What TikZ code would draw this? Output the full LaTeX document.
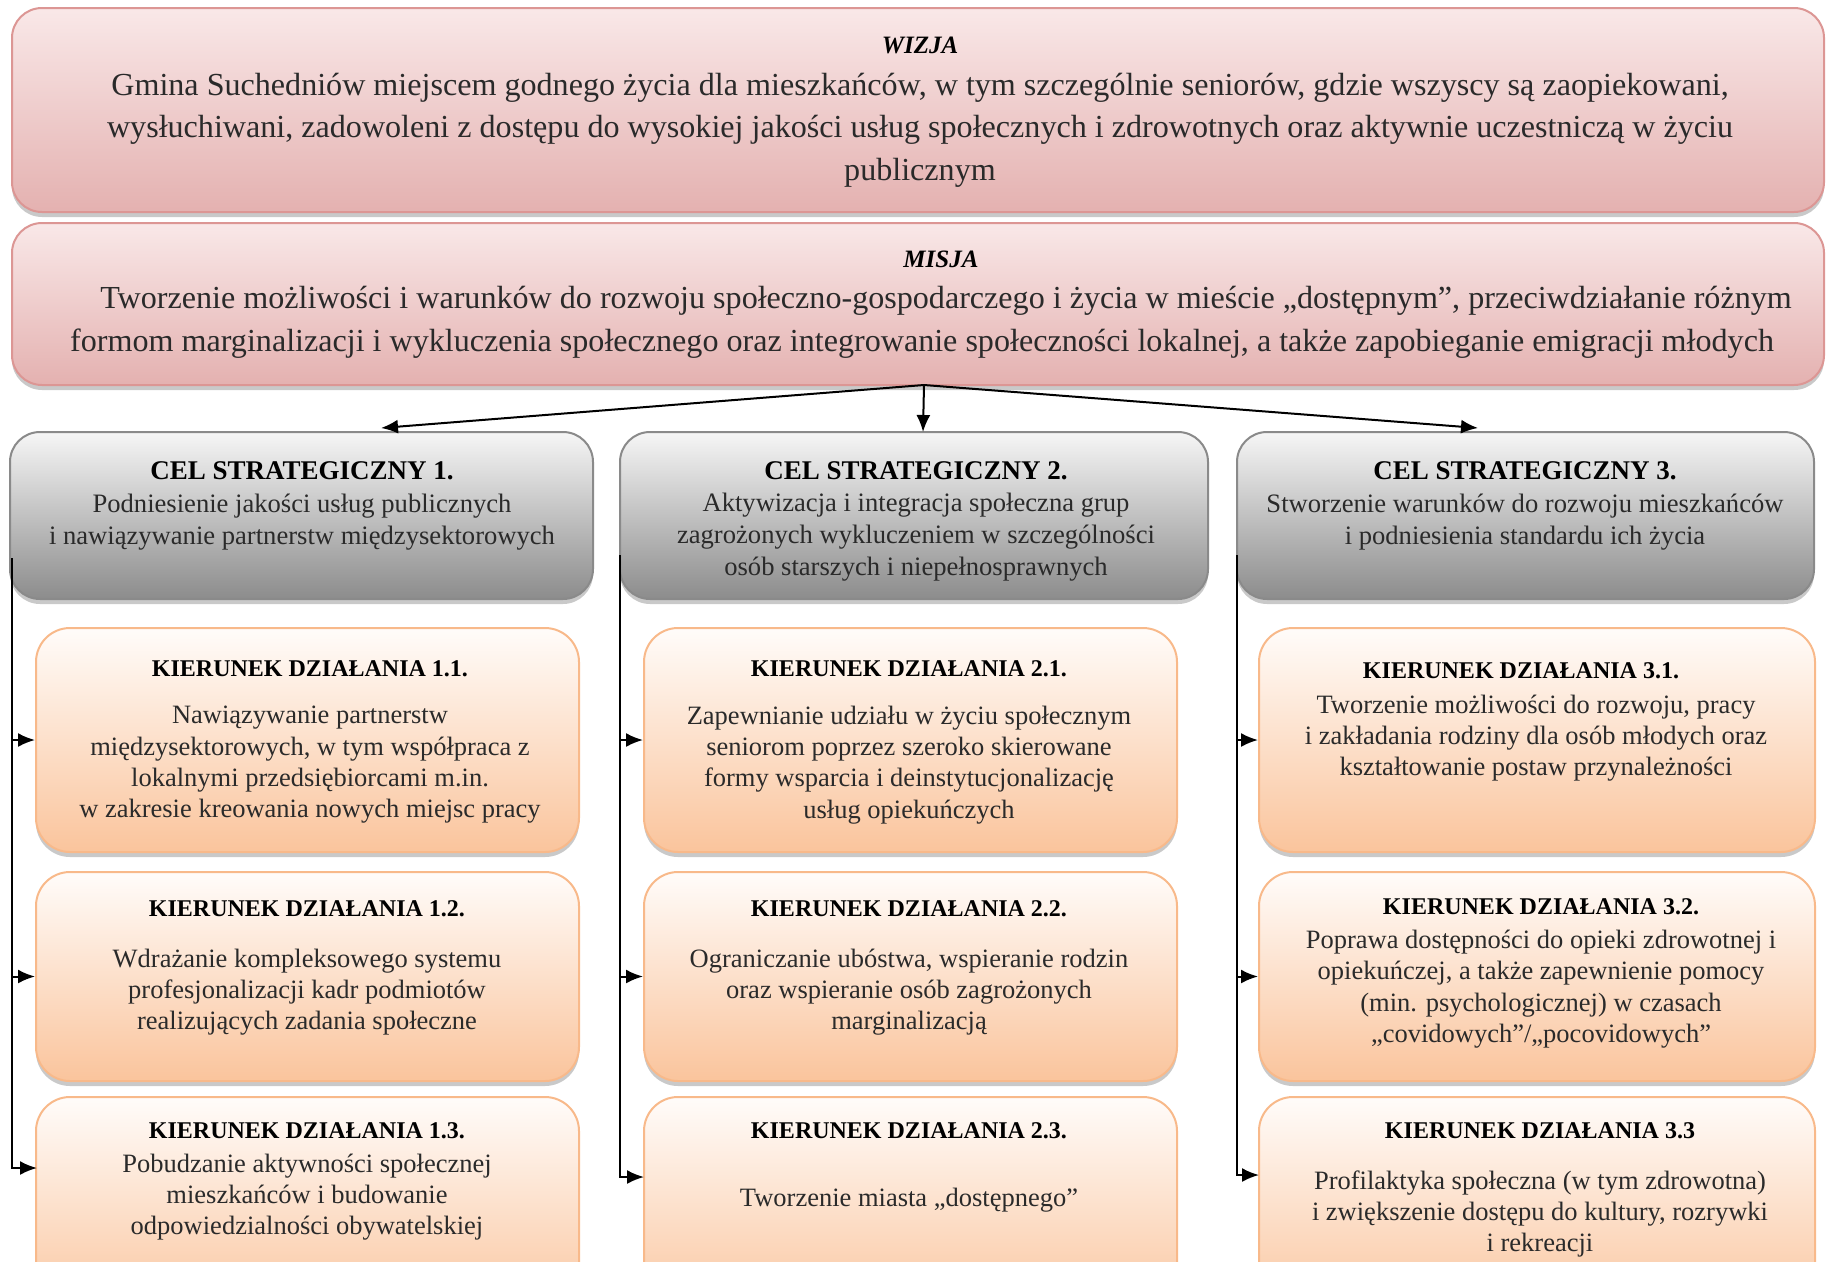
\documentclass[tikz,border=0pt]{standalone}
\usepackage{fontspec}
\setmainfont{Liberation Serif}
\usetikzlibrary{arrows.meta,shadows,calc}
\definecolor{pinkB}{HTML}{DC9694}
\definecolor{pinkT}{HTML}{F9E8E8}
\definecolor{pinkBot}{HTML}{E4B1B0}
\definecolor{grayB}{HTML}{8A8A8A}
\definecolor{grayT}{HTML}{F6F6F6}
\definecolor{grayBot}{HTML}{8C8C8C}
\definecolor{orB}{HTML}{F8B98A}
\definecolor{orT}{HTML}{FFFCFA}
\definecolor{orBot}{HTML}{FAC49C}
\definecolor{bodytxt}{HTML}{2A2A2A}
\begin{document}
\begin{tikzpicture}[x=1pt,y=-1pt,
  shad/.style={drop shadow={shadow xshift=0pt, shadow yshift=-5pt, opacity=0.3, fill=black!70}},
  pbox/.style={draw=pinkB, line width=2pt, rounded corners=30pt, top color=pinkT, bottom color=pinkBot, shad},
  gbox/.style={draw=grayB, line width=2pt, rounded corners=30pt, top color=grayT, bottom color=grayBot, shad},
  obox/.style={draw=orB, line width=2pt, rounded corners=34pt, top color=orT, bottom color=orBot, shad},
  bigbody/.style={align=center, text=bodytxt, inner sep=0pt, font=\fontsize{32.1}{42.5}\selectfont},
  bigtitle/.style={inner sep=0pt, font=\fontsize{25}{30}\selectfont\bfseries\itshape},
  celtitle/.style={inner sep=0pt, font=\fontsize{27}{30}\selectfont\bfseries},
  celbody/.style={align=center, text=bodytxt, inner sep=0pt, font=\fontsize{26.6}{32}\selectfont},
  ktitle/.style={inner sep=0pt, font=\fontsize{24}{30}\selectfont\bfseries},
  kbody/.style={align=center, text=bodytxt, inner sep=0pt, font=\fontsize{26.5}{31.3}\selectfont},
  conn/.style={line width=2pt, -{Latex[length=17pt,width=14pt]}},
  kw1/.style={minimum width=543pt},
  kw2/.style={minimum width=533pt},
  kw3/.style={minimum width=556pt},
]
\useasboundingbox (0,0) rectangle (1827,1261);
\clip (0,0) rectangle (1827,1261);

% ---- vision / mission
\node[pbox, minimum width=1812pt, minimum height=204pt] (wizja) at (918,110) {};
\node[pbox, minimum width=1812pt, minimum height=162pt] (misja) at (918,304) {};
\node[bigtitle] (wizjaT) at (920,45) {WIZJA};
\node[bigbody] (wizjaB) at (920,130) {Gmina Suchedniów miejscem godnego życia dla mieszkańców, w tym szczególnie seniorów, gdzie wszyscy są zaopiekowani,\\wysłuchiwani, zadowoleni z dostępu do wysokiej jakości usług społecznych i zdrowotnych oraz aktywnie uczestniczą w życiu\\publicznym};
\node[bigtitle] (misjaT) at (941,259) {MISJA};
\node[bigbody] (misjaB) at (922,322.5) {\hspace*{48pt}Tworzenie możliwości i warunków do rozwoju społeczno-gospodarczego i życia w mieście „dostępnym”, przeciwdziałanie różnym\\formom marginalizacji i wykluczenia społecznego oraz integrowanie społeczności lokalnej, a także zapobieganie emigracji młodych};

% ---- strategic goals
\node[gbox, minimum width=583pt, minimum height=167pt] (cel1) at (301.5,515.5) {};
\node[gbox, minimum width=588pt, minimum height=167pt] (cel2) at (914,515.5) {};
\node[gbox, minimum width=577pt, minimum height=167pt] (cel3) at (1525.5,515.5) {};
\node[celtitle] (cel1T) at (302,471) {CEL STRATEGICZNY 1.};
\node[celbody] (cel1B) at (302,522) {Podniesienie jakości usług publicznych\\i nawiązywanie partnerstw międzysektorowych};
\node[celtitle] (cel2T) at (916,471) {CEL STRATEGICZNY 2.};
\node[celbody] (cel2B) at (916,537) {Aktywizacja i integracja społeczna grup\\zagrożonych wykluczeniem w szczególności\\osób starszych i niepełnosprawnych};
\node[celtitle] (cel3T) at (1525,471) {CEL STRATEGICZNY 3.};
\node[celbody] (cel3B) at (1525,522) {Stworzenie warunków do rozwoju mieszkańców\\i podniesienia standardu ich życia};

% ---- directions
\node[obox, kw1, minimum height=224pt] (k11) at (307.5,740) {};
\node[obox, kw1, minimum height=209pt] (k12) at (307.5,976.5) {};
\node[obox, kw1, minimum height=223pt] (k13) at (307.5,1208.5) {};
\node[obox, kw2, minimum height=224pt] (k21) at (910.5,740) {};
\node[obox, kw2, minimum height=209pt] (k22) at (910.5,976.5) {};
\node[obox, kw2, minimum height=223pt] (k23) at (910.5,1208.5) {};
\node[obox, kw3, minimum height=224pt] (k31) at (1537,740) {};
\node[obox, kw3, minimum height=209pt] (k32) at (1537,976.5) {};
\node[obox, kw3, minimum height=223pt] (k33) at (1537,1208.5) {};

\node[ktitle] (k11T) at (310,669) {KIERUNEK DZIAŁANIA 1.1.};
\node[kbody] (k11B) at (310,765) {Nawiązywanie partnerstw\\międzysektorowych, w tym współpraca z\\lokalnymi przedsiębiorcami m.in.\\w zakresie kreowania nowych miejsc pracy};
\node[ktitle] (k12T) at (307,909) {KIERUNEK DZIAŁANIA 1.2.};
\node[kbody] (k12B) at (307,992) {Wdrażanie kompleksowego systemu\\profesjonalizacji kadr podmiotów\\realizujących zadania społeczne};
\node[ktitle] (k13T) at (307,1131) {KIERUNEK DZIAŁANIA 1.3.};
\node[kbody] (k13B) at (307,1197) {Pobudzanie aktywności społecznej\\mieszkańców i budowanie\\odpowiedzialności obywatelskiej};

\node[ktitle] (k21T) at (909,669) {KIERUNEK DZIAŁANIA 2.1.};
\node[kbody] (k21B) at (909,765) {Zapewnianie udziału w życiu społecznym\\seniorom poprzez szeroko skierowane\\formy wsparcia i deinstytucjonalizację\\usług opiekuńczych};
\node[ktitle] (k22T) at (909,909) {KIERUNEK DZIAŁANIA 2.2.};
\node[kbody] (k22B) at (909,992) {Ograniczanie ubóstwa, wspieranie rodzin\\oraz wspieranie osób zagrożonych\\marginalizacją};
\node[ktitle] (k23T) at (909,1131) {KIERUNEK DZIAŁANIA 2.3.};
\node[kbody] (k23B) at (909,1200) {Tworzenie miasta „dostępnego”};

\node[ktitle] (k31T) at (1521,671) {KIERUNEK DZIAŁANIA 3.1.};
\node[kbody] (k31B) at (1536,738) {Tworzenie możliwości do rozwoju, pracy\\i zakładania rodziny dla osób młodych oraz\\kształtowanie postaw przynależności};
\node[ktitle] (k32T) at (1541,907) {KIERUNEK DZIAŁANIA 3.2.};
\node[kbody] (k32B) at (1541,989) {Poprawa dostępności do opieki zdrowotnej i\\opiekuńczej, a także zapewnienie pomocy\\(min. psychologicznej) w czasach\\„covidowych”/„pocovidowych”};
\node[ktitle] (k33T) at (1540,1131) {KIERUNEK DZIAŁANIA 3.3};
\node[kbody] (k33B) at (1540,1214) {Profilaktyka społeczna (w tym zdrowotna)\\i zwiększenie dostępu do kultury, rozrywki\\i rekreacji};

% ---- connectors from mission
\coordinate (src) at (924,385);
\coordinate (h1) at (381,428);
\coordinate (h2) at (923,432);
\coordinate (h3) at (1478,428);
\draw[conn] (src) -- (h1);
\draw[conn] (src) -- (h2);
\draw[conn] (src) -- (h3);

% ---- trunks
\coordinate (t1) at (12,558);
\coordinate (t2) at (620,555);
\coordinate (t3) at (1237,555);
\coordinate (e13) at (37,1168);
\coordinate (e23) at (644,1177);
\coordinate (e33) at (1259,1175);
\draw[conn] (t1) |- (e13);
\draw[conn] (t1 |- k11.west) -- (k11.west);
\draw[conn] (t1 |- k12.west) -- (k12.west);
\draw[conn] (t2) |- (e23);
\draw[conn] (t2 |- k21.west) -- (k21.west);
\draw[conn] (t2 |- k22.west) -- (k22.west);
\draw[conn] (t3) |- (e33);
\draw[conn] (t3 |- k31.west) -- (k31.west);
\draw[conn] (t3 |- k32.west) -- (k32.west);
\end{tikzpicture}
\end{document}
